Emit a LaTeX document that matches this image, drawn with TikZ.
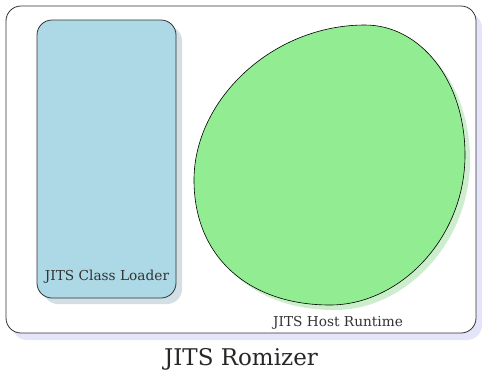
\documentclass[tikz,border=0pt]{standalone}
\usepackage{fontspec}
\setmainfont{DejaVu Serif}
\definecolor{loaderfill}{HTML}{ADD8E6}
\definecolor{loadershadow}{HTML}{D2DFE4}
\definecolor{hostfill}{HTML}{92EC92}
\definecolor{hostshadow}{HTML}{CDEECD}
\definecolor{frameshadow}{HTML}{E4E4FA}
\definecolor{framedraw}{HTML}{333333}
\begin{document}
\begin{tikzpicture}[x=1pt,y=-1pt,
  panel/.style={draw=framedraw,line width=0.8pt,rounded corners=15pt},
  caption/.style={font=\fontsize{13.7}{15}\selectfont,text=black!80},
  title/.style={font=\fontsize{23}{26}\selectfont,text=black!85}]
\useasboundingbox (0,0) rectangle (482,373);
% outer frame with its shadow
\fill[frameshadow,rounded corners=15pt] (12,13) rectangle (482,340);
\draw[panel,fill=white] (6,6) rectangle (476,333);
% class loader box
\fill[loadershadow,rounded corners=15pt] (43,26) rectangle (182,304);
\draw[panel,fill=loaderfill] (37,20) rectangle (176,298);
\node[caption] (loader) at (107,277) {JITS Class Loader};
% host runtime blob
\def\blobpath{(365,25) .. controls (420,25) and (465,80) .. (465,155)
  .. controls (465,238) and (400,305) .. (330,305)
  .. controls (250,305) and (194,258) .. (194,180)
  .. controls (194,100) and (272,25) .. (365,25) -- cycle}
\fill[hostshadow,shift={(5,5)}] \blobpath;
\draw[fill=hostfill,line width=0.6pt] \blobpath;
\node[caption] (host) at (338,323) {JITS Host Runtime};
% title
\node[title] (romizer) at (241,359) {JITS Romizer};
\end{tikzpicture}
\end{document}
